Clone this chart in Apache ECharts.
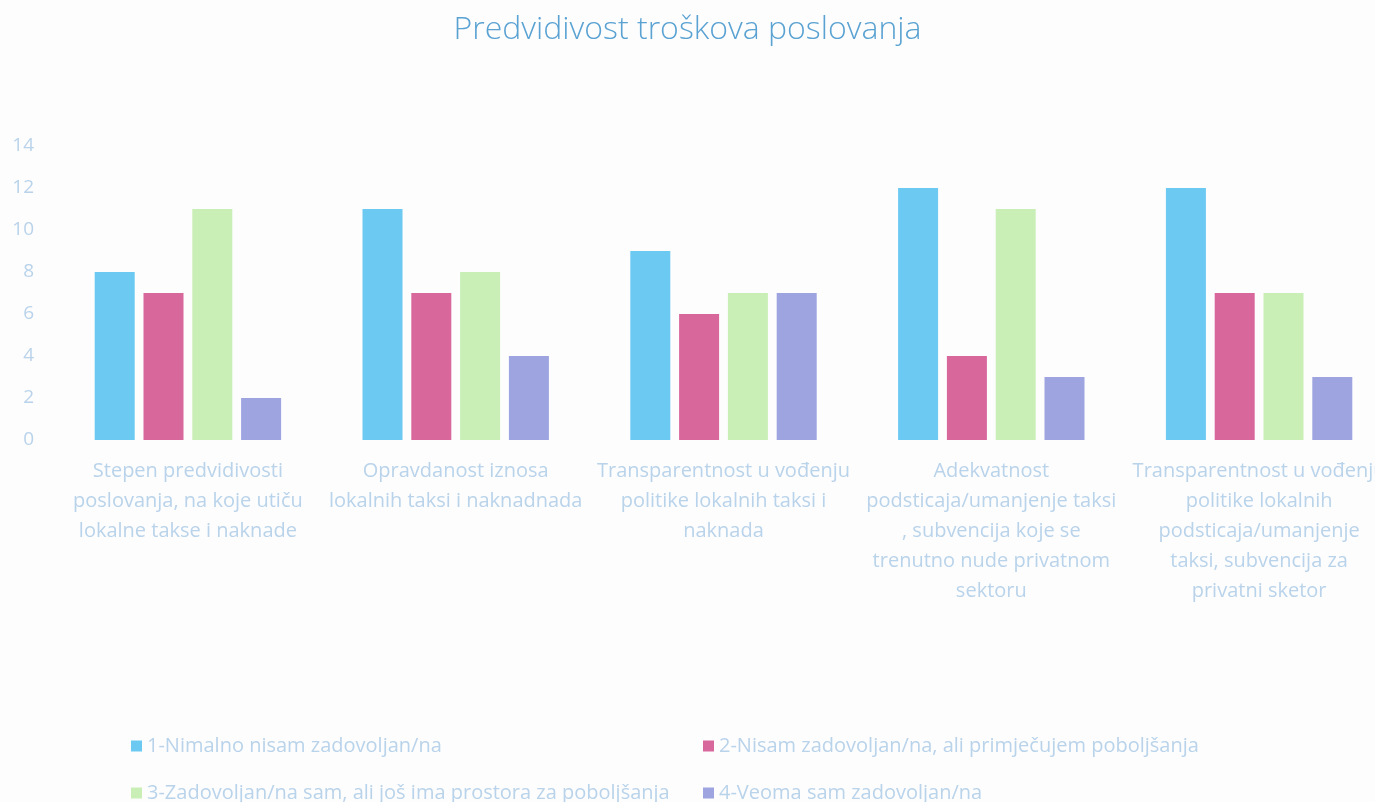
<!DOCTYPE html>
<html>
<head>
<meta charset="utf-8">
<script src="https://cdn.jsdelivr.net/npm/echarts@6/dist/echarts.min.js"></script>
<style>
  html, body { margin: 0; padding: 0; background: #fdfdfe; }
  #chart { width: 1375px; height: 802px; }
</style>
</head>
<body>
<div id="chart"></div>
<script>
  const categories = [
    'Stepen predvidivosti\nposlovanja, na koje utiču\nlokalne takse i naknade',
    'Opravdanost iznosa\nlokalnih taksi i naknadnada',
    'Transparentnost u vođenju\npolitike lokalnih taksi i\nnaknada',
    'Adekvatnost\npodsticaja/umanjenje taksi\n, subvencija koje se\ntrenutno nude privatnom\nsektoru',
    'Transparentnost u vođenju\npolitike lokalnih\npodsticaja/umanjenje\ntaksi, subvencija za\nprivatni sketor'
  ]
  const seriesNames = [
    '1-Nimalno nisam zadovoljan/na',
    '2-Nisam zadovoljan/na, ali primječujem poboljšanja',
    '3-Zadovoljan/na sam, ali još ima prostora za poboljšanja',
    '4-Veoma sam zadovoljan/na'
  ]
  const nimalno = [8, 11, 9, 12, 12]
  const nisam = [7, 7, 6, 4, 7]
  const zadovoljan = [11, 8, 7, 11, 7]
  const veoma = [2, 4, 7, 3, 3]
  const yTicks = [0, 2, 4, 6, 8, 10, 12, 14]

  const colors = ['#6cc9f2', '#d8679c', '#c9efb6', '#9da4e0']
  const textColor = '#b9d3ea'
  const font = 'Open Sans'

  const chart = echarts.init(document.getElementById('chart'))

  const legendPos = [
    { left: 126, top: 731 },
    { left: 698, top: 731 },
    { left: 126, top: 778 },
    { left: 698, top: 778 }
  ]

  chart.setOption({
    backgroundColor: '#fdfdfe',
    color: colors,
    title: {
      text: 'Predvidivost troškova poslovanja',
      left: 'center',
      top: 9,
      textStyle: {
        color: '#5aa2d2',
        fontFamily: font,
        fontWeight: 300,
        fontSize: 32
      }
    },
    legend: seriesNames.map((name, i) => ({
      data: [name],
      left: legendPos[i].left,
      top: legendPos[i].top,
      itemWidth: 11,
      itemHeight: 11,
      itemGap: 6,
      icon: 'rect',
      textStyle: { color: textColor, fontFamily: font, fontSize: 20 }
    })),
    grid: {
      top: 146,
      left: 54,
      width: 1339,
      height: 294,
      outerBoundsMode: 'none'
    },
    xAxis: {
      type: 'category',
      data: categories,
      axisLine: { show: false },
      axisTick: { show: false },
      axisLabel: {
        color: textColor,
        fontFamily: font,
        fontSize: 20,
        lineHeight: 30,
        margin: 16,
        interval: 0
      }
    },
    yAxis: {
      type: 'value',
      min: yTicks[0],
      max: yTicks[yTicks.length - 1],
      interval: 2,
      splitLine: { show: false },
      axisLine: { show: false },
      axisTick: { show: false },
      axisLabel: {
        color: textColor,
        fontFamily: font,
        fontSize: 19,
        margin: 20
      }
    },
    series: [nimalno, nisam, zadovoljan, veoma].map((data, i) => ({
      name: seriesNames[i],
      type: 'bar',
      data: data,
      barWidth: 40,
      barGap: '22%'
    }))
  })
</script>
</body>
</html>
